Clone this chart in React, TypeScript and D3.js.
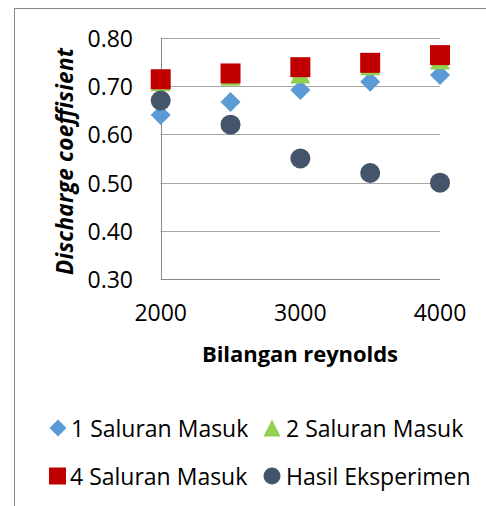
import * as d3 from "d3"

const reynolds = [2000, 2500, 3000, 3500, 4000]
const saluran1 = [0.64, 0.667, 0.692, 0.709, 0.723]
const saluran2 = [0.71, 0.721, 0.726, 0.743, 0.755]
const saluran4 = [0.714, 0.726, 0.739, 0.748, 0.764]
const eksperimen = [0.67, 0.62, 0.55, 0.52, 0.5]
const yTicks = [0.3, 0.4, 0.5, 0.6, 0.7, 0.8]
const xTicks = [2000, 3000, 4000]

const FONT = "'Open Sans', sans-serif"
const GRID = "#a6a6a6"
const AXIS = "#898989"

const colors = {
  s1: "#5b9bd5",
  s2: "#92d050",
  s4: "#c00000",
  exp: "#44546a",
}

function Marker({ kind, x, y, size }: { kind: string; x: number; y: number; size: number }) {
  const h = size / 2
  if (kind === "diamond") {
    return <path d={`M${x},${y - h}L${x + h},${y}L${x},${y + h}L${x - h},${y}Z`} fill={colors.s1} />
  }
  if (kind === "triangle") {
    return <path d={`M${x},${y - h}L${x + h},${y + h}L${x - h},${y + h}Z`} fill={colors.s2} />
  }
  if (kind === "square") {
    return <rect x={x - h} y={y - h} width={size} height={size} fill={colors.s4} />
  }
  return <circle cx={x} cy={y} r={h} fill={colors.exp} />
}

export default function App() {
  const width = 486
  const height = 506

  const x = d3.scaleLinear().domain([2000, 4000]).range([160.7, 440])
  const y = d3.scaleLinear().domain([0.3, 0.8]).range([279.3, 37.7])

  const series = [
    { name: "1 Saluran Masuk", kind: "diamond", values: saluran1 },
    { name: "2 Saluran Masuk", kind: "triangle", values: saluran2 },
    { name: "4 Saluran Masuk", kind: "square", values: saluran4 },
    { name: "Hasil Eksperimen", kind: "circle", values: eksperimen },
  ]

  const legendPos = [
    { mx: 58, tx: 71, y: 428 },
    { mx: 272, tx: 286, y: 428 },
    { mx: 57.5, tx: 70, y: 476 },
    { mx: 272, tx: 286, y: 476 },
  ]

  return (
    <svg
      width={width}
      height={height}
      style={{ position: "absolute", left: 0, top: 0, background: "#fff" }}
    >
      <rect x={14.5} y={8.5} width={width} height={height} fill="#fff" stroke={AXIS} />

      {/* gridlines */}
      {yTicks.map(t => (
        <line
          key={t}
          x1={x(2000)}
          x2={x(4000)}
          y1={Math.round(y(t)) + 0.5}
          y2={Math.round(y(t)) + 0.5}
          stroke={t === 0.3 ? AXIS : GRID}
        />
      ))}
      <line
        x1={Math.round(x(2000)) + 0.5}
        x2={Math.round(x(2000)) + 0.5}
        y1={y(0.8)}
        y2={y(0.3)}
        stroke={AXIS}
      />

      {/* y tick labels */}
      {yTicks.map(t => (
        <text
          key={t}
          x={133}
          y={y(t)}
          textAnchor="end"
          dominantBaseline="central"
          fontFamily={FONT}
          fontSize={23}
          fill="#000"
        >
          {d3.format(".2f")(t)}
        </text>
      ))}

      {/* x tick labels */}
      {xTicks.map(t => (
        <text
          key={t}
          x={x(t)}
          y={312}
          textAnchor="middle"
          dominantBaseline="central"
          fontFamily={FONT}
          fontSize={23}
          fill="#000"
        >
          {t}
        </text>
      ))}

      <text
        x={300}
        y={362}
        textAnchor="middle"
        fontFamily={FONT}
        fontWeight="bold"
        fontSize={22}
        textLength={196}
        fill="#000"
      >
        Bilangan reynolds
      </text>

      <text
        transform="translate(73,161.5) rotate(-90)"
        textAnchor="middle"
        fontFamily={FONT}
        fontWeight="bold"
        fontStyle="italic"
        fontSize={22.5}
        textLength={227}
        fill="#000"
      >
        Discharge coeffisient
      </text>

      {/* points */}
      {series.map(s => (
        <g key={s.name}>
          {s.values.map((v, i) => (
            <Marker key={i} kind={s.kind} x={x(reynolds[i])} y={y(v)} size={20} />
          ))}
        </g>
      ))}

      {/* legend */}
      {series.map((s, i) => (
        <g key={s.name}>
          <Marker kind={s.kind} x={legendPos[i].mx} y={legendPos[i].y} size={17} />
          <text
            x={legendPos[i].tx}
            y={legendPos[i].y}
            dominantBaseline="central"
            fontFamily={FONT}
            fontSize={23}
            fill="#000"
          >
            {s.name}
          </text>
        </g>
      ))}
    </svg>
  )
}
